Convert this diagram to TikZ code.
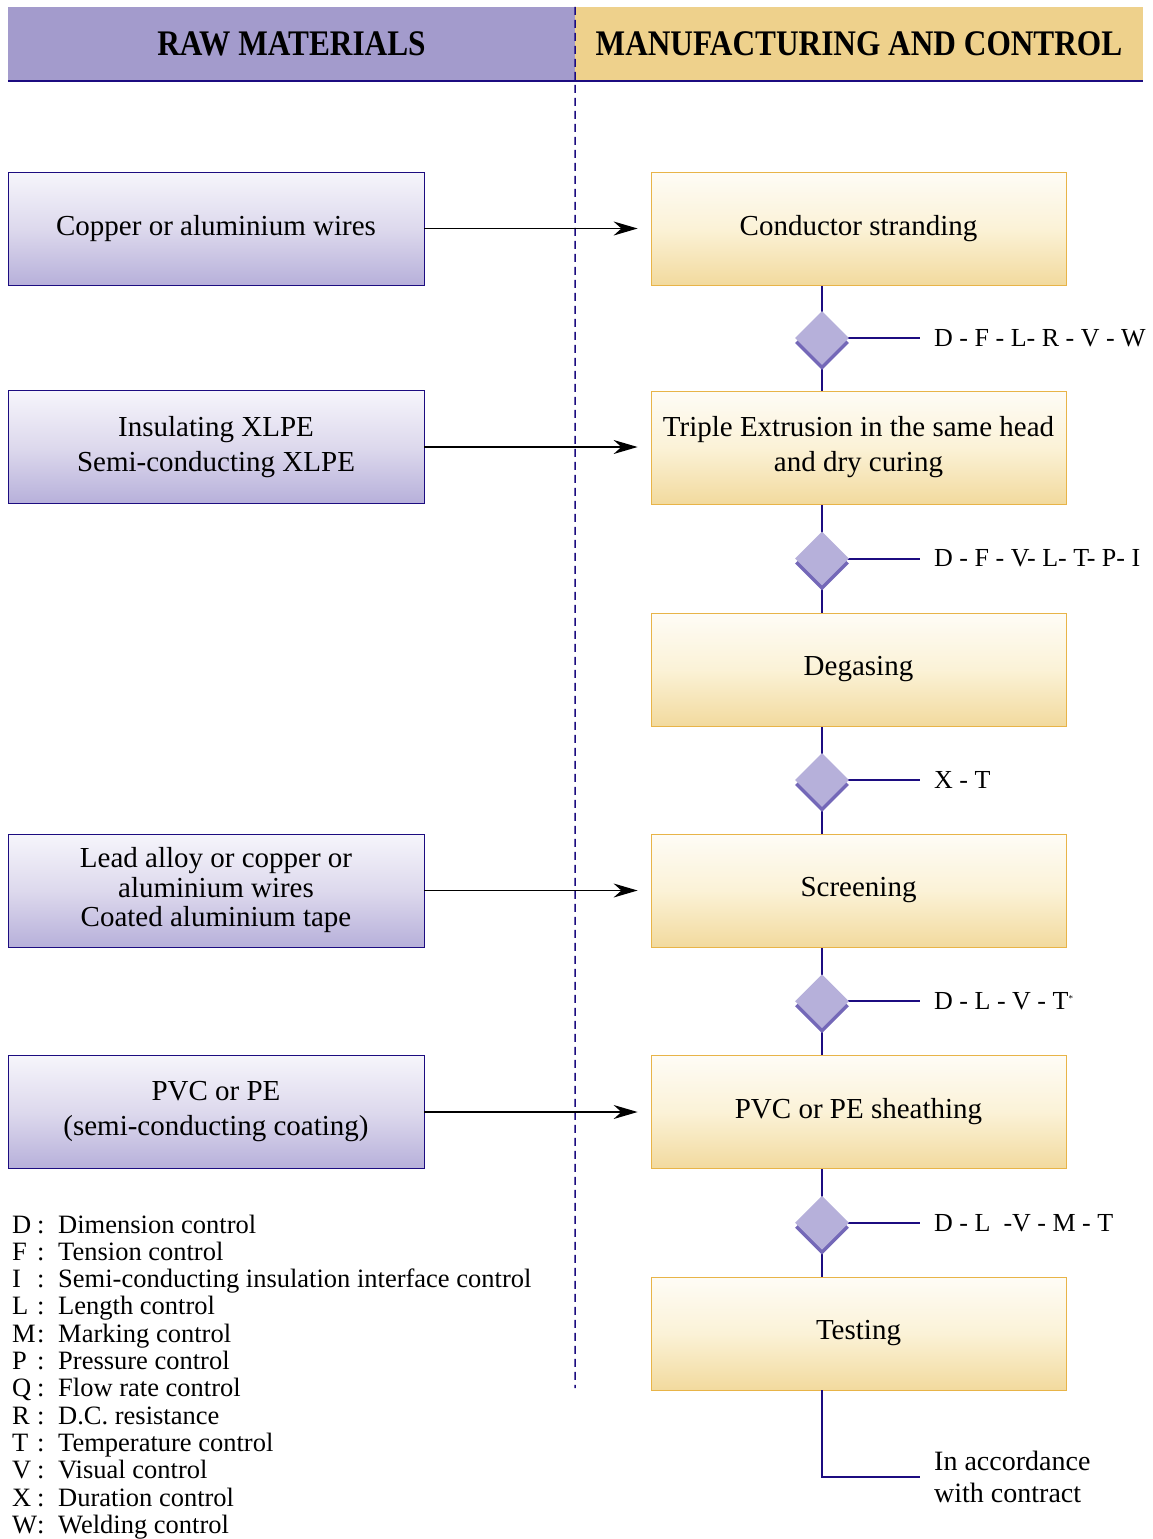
\documentclass[tikz,border=0pt]{standalone}
\usepackage{fontspec}
\setmainfont{Liberation Serif}
\usetikzlibrary{shapes.geometric,arrows.meta,shadows,backgrounds,calc}
\definecolor{navy}{RGB}{28,12,128}
\definecolor{rawhead}{RGB}{163,155,204}
\definecolor{manhead}{RGB}{238,209,140}
\definecolor{rawtop}{RGB}{246,245,251}
\definecolor{rawmid}{RGB}{221,217,237}
\definecolor{rawbot}{RGB}{183,176,218}
\definecolor{mantop}{RGB}{254,252,246}
\definecolor{manmid}{RGB}{251,242,215}
\definecolor{manbot}{RGB}{242,218,158}
\definecolor{manedge}{RGB}{232,180,72}
\definecolor{diafill}{RGB}{182,176,218}
\definecolor{diashadow}{RGB}{116,104,184}

\begin{document}
\begin{tikzpicture}[x=1pt, y=-1pt,
        head/.style={minimum width=567pt, minimum height=74pt, inner sep=0pt,
            font=\fontsize{36}{40}\selectfont\bfseries},
        raw/.style={draw=navy, line width=0.8pt, minimum width=416pt, minimum height=113pt,
            inner sep=0pt, align=center, font=\fontsize{29}{35}\selectfont,
            top color=rawtop, bottom color=rawbot, middle color=rawmid},
        man/.style={draw=manedge, line width=0.8pt, minimum width=415pt, minimum height=113pt,
            inner sep=0pt, align=center, font=\fontsize{29}{35}\selectfont,
            top color=mantop, bottom color=manbot, middle color=manmid},
        losange/.style={diamond, fill=diafill, minimum width=54pt, minimum height=54pt, inner sep=0pt,
            drop shadow={shadow xshift=0pt, shadow yshift=-5pt, fill=diashadow, opacity=1}},
        ctrl/.style={anchor=west, inner xsep=14pt, inner ysep=0pt, font=\fontsize{26}{32}\selectfont, align=left},
        link/.style={draw=navy, line width=2pt},
        fleche/.style={-{Stealth[length=24pt,width=14pt]}, line width=1.5pt, shorten >=13pt},
        legend/.style={anchor=base west, inner sep=0pt, font=\fontsize{26.5}{30}\selectfont},
    ]
    \useasboundingbox (0,0) rectangle (1152,1539);

    % headers
    \node[head, fill=rawhead] (hraw) at (291.5,44) {\scalebox{0.87}[1]{RAW MATERIALS}};
    \node[head, fill=manhead, minimum width=568pt] (hman) at (859,44) {\scalebox{0.87}[1]{MANUFACTURING AND CONTROL}};
    \draw[navy, line width=2.5pt] (hraw.south west) -- (hman.south east);
    \coordinate (sepend) at (575,1388);
    \draw[navy, line width=1.5pt, dash pattern=on 8pt off 5pt] (hraw.north east) -- (sepend);

    % raw materials
    \node[raw] (r1) at (216,228.5) {Copper or aluminium wires};
    \node[raw] (r2) at (216,447) {Insulating XLPE\\Semi-conducting XLPE};
    \node[raw, font=\fontsize{29}{29.5}\selectfont] (r3) at (216,890.5) {Lead alloy or copper or\\aluminium wires\\Coated aluminium tape};
    \node[raw] (r4) at (216,1112) {PVC or PE\\(semi-conducting coating)};

    % manufacturing steps
    \node[man] (m1) at (858.5,228.5) {Conductor stranding};
    \node[man] (m2) at (858.5,447.5) {Triple Extrusion in the same head\\and dry curing};
    \node[man] (m3) at (858.5,669.5) {Degasing};
    \node[man] (m4) at (858.5,890.5) {Screening};
    \node[man] (m5) at (858.5,1112) {PVC or PE sheathing};
    \node[man] (m6) at (858.5,1333.5) {Testing};

    \draw[fleche] (r1) -- (m1);
    \draw[fleche] (r2.east) -- (r2.east -| m2.west);
    \draw[fleche] (r3) -- (m4);
    \draw[fleche] (r4) -- (m5);

    % controls
    \coordinate (axis) at (822,0);
    \foreach \a/\b/\t [count=\i] in {m1/m2/{D - F - L- R - V - W}, m2/m3/{D - F - V- L- T- P- I},
            m3/m4/{X - T}, m4/m5/{D - L - V - T\raisebox{0.7ex}{\fontsize{9}{9}\selectfont *}},
            m5/m6/{D - L\ \ -V - M - T}}{
        \node[losange] (d\i) at ($(axis |- \a.south)!0.5!(axis |- \b.north)$) {};
        \node[ctrl] (c\i) at ([xshift=98pt]d\i.center) {\t};
        \begin{scope}[on background layer]
            \draw[link] (axis |- \a.south) -- (axis |- \b.north);
            \draw[link] (d\i.center) -- (c\i.west);
        \end{scope}
    }

    \node[ctrl, font=\fontsize{28}{32}\selectfont] (acc) at (920,1477) {In accordance\\with contract};
    \draw[link] (axis |- m6.south) |- (acc.west);

    % legend
    \foreach \k/\t [count=\i] in {D/Dimension control, F/Tension control,
            I/Semi-conducting insulation interface control, L/Length control,
            M/Marking control, P/Pressure control, Q/Flow rate control,
            R/D.C. resistance, T/Temperature control, V/Visual control,
            X/Duration control, W/Welding control}{
        \node[legend] (k\i) at (12,1205.7+27.3*\i) {\k};
        \node[legend] (p\i) at (37,1205.7+27.3*\i) {:};
        \node[legend] (t\i) at (58,1205.7+27.3*\i) {\t};
    }
\end{tikzpicture}
\end{document}
